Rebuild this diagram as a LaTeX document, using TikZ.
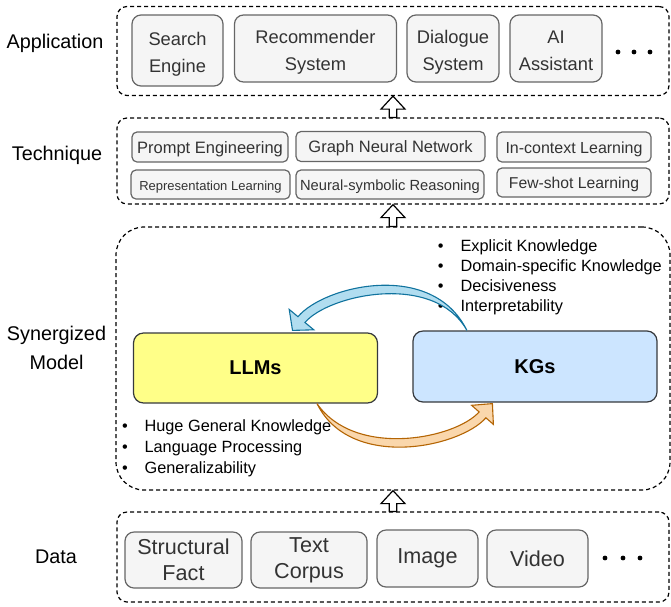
\documentclass[tikz,border=0pt]{standalone}
\usepackage{fontspec}
\setmainfont{Liberation Sans}
\usepackage{tikz}
\usepackage{xcolor}
\usetikzlibrary{calc}

\definecolor{cellfill}{HTML}{F5F5F5}
\definecolor{celldraw}{HTML}{666666}
\definecolor{celltext}{HTML}{333333}
\definecolor{llmfill}{HTML}{FFFF88}
\definecolor{kgfill}{HTML}{CCE5FF}
\definecolor{coredraw}{HTML}{36393D}
\definecolor{bluefill}{HTML}{B1DDF0}
\definecolor{bluedraw}{HTML}{10739E}
\definecolor{orangefill}{HTML}{FAD7AC}
\definecolor{orangedraw}{HTML}{B46504}

% cell text, lowered by #1 inside its box
\newcommand{\cellstack}[2]{\raisebox{-#1}[\height][\depth]{\begin{tabular}{@{}c@{}}#2\end{tabular}}}

% hollow block arrow from the north of #1 up to the south of #2
\newcommand{\layerarrow}[2]{%
  \draw[blockarrow] let \p1=(#1.north), \p2=(#2.south) in
    (\x1-3.7pt,\y1) -- (\x1-3.7pt,\y2-13pt) -- (\x1-12pt,\y2-13pt) -- (\x1,\y2)
    -- (\x1+12pt,\y2-13pt) -- (\x1+3.7pt,\y2-13pt) -- (\x1+3.7pt,\y1) -- cycle;}

\begin{document}
\begin{tikzpicture}[x=1pt, y=-1pt,
    layerbox/.style = {draw, line width=1.2pt, dash pattern=on 4pt off 3pt,
      rounded corners=10pt, inner sep=0pt},
    layername/.style = {align=center, font=\fontsize{19.8}{29}\selectfont},
    cell/.style = {draw=celldraw, fill=cellfill, text=celltext, line width=1.2pt,
      rounded corners=9pt, align=center, inner sep=0pt},
    appcell/.style = {cell, font=\fontsize{18.3}{27}\selectfont},
    techcell/.style = {cell, rounded corners=5pt, minimum height=30pt},
    datacell/.style = {cell, font=\fontsize{21.6}{26}\selectfont},
    corebox/.style = {draw=coredraw, line width=1.2pt, rounded corners=10pt,
      font=\fontsize{20}{24}\selectfont\bfseries,
      minimum width=244pt, minimum height=70pt},
    bulletline/.style = {anchor=west, inner sep=0pt, font=\fontsize{16.3}{20}\selectfont},
    blockarrow/.style = {draw, fill=white, line width=1.2pt, line join=miter},
    bluearrow/.style = {draw=bluedraw, fill=bluefill, line width=1.1pt},
    orangearrow/.style = {draw=orangedraw, fill=orangefill, line width=1.1pt}]
  \useasboundingbox (0,0) rectangle (671,606);

  \node[layerbox, minimum width=552pt, minimum height=89pt] (app) at (393,51) {};
  \node[layerbox, minimum width=552pt, minimum height=86pt] (tech) at (393,161) {};
  \node[layerbox, rounded corners=28pt, minimum width=554pt, minimum height=263pt] (model) at (393,358.5) {};
  \node[layerbox, minimum width=552pt, minimum height=90pt] (data) at (393,557) {};

  \node[layername] (appname) at (55,43) {Application};
  \node[layername] (techname) at (57,155) {Technique};
  \node[layername] (modelname) at (56.5,347.5) {Synergized\\Model};
  \node[layername] (dataname) at (56,557) {Data};

  \node[appcell, minimum width=91pt, minimum height=71pt] (search) at (177.5,50.5) {\cellstack{3.5pt}{Search\\Engine}};
  \node[appcell, minimum width=162pt, minimum height=67pt] (recsys) at (315.5,48.5) {\cellstack{3.5pt}{Recommender\\System}};
  \node[appcell, minimum width=92pt, minimum height=67pt] (dialog) at (453,48.5) {\cellstack{3.5pt}{Dialogue\\System}};
  \node[appcell, minimum width=92pt, minimum height=67pt] (assist) at (556,48.5) {\cellstack{3.5pt}{AI\\Assistant}};
  \foreach \x in {618,634,650}
    \fill (\x,52) circle (2.4pt);

  \node[techcell, minimum width=156pt, font=\fontsize{16.5}{20}\selectfont] (prompt) at (210,147) {\cellstack{2.5pt}{Prompt Engineering}};
  \node[techcell, minimum width=189pt, font=\fontsize{16.5}{20}\selectfont] (gnn) at (390.5,146.5) {\cellstack{2pt}{Graph Neural Network}};
  \node[techcell, minimum width=154pt, font=\fontsize{16}{20}\selectfont] (icl) at (574,147) {\cellstack{2.5pt}{In-context Learning}};
  \node[techcell, minimum width=159pt, minimum height=29pt, font=\fontsize{13}{16}\selectfont] (replearn) at (210.5,184.5) {\cellstack{2.5pt}{Representation Learning}};
  \node[techcell, minimum width=188pt, minimum height=29pt, font=\fontsize{14.7}{18}\selectfont] (neurosym) at (390,184.5) {\cellstack{2.5pt}{Neural-symbolic Reasoning}};
  \node[techcell, minimum width=154pt, minimum height=29pt, font=\fontsize{15.7}{19}\selectfont] (fewshot) at (574,182.5) {\cellstack{2.5pt}{Few-shot Learning}};

  \node[corebox, fill=llmfill] (llm) at (255.5,368) {LLMs};
  \node[corebox, fill=kgfill, minimum height=71pt] (kg) at (535,366.5) {KGs};

  \foreach \txt [count=\i] in {Explicit Knowledge, Domain-specific Knowledge, Decisiveness, Interpretability}
    \node[bulletline] (kgpoint\i) at (437.6,227+20.2*\i) {\textbullet\hspace{17.1pt}\strut\txt};
  \foreach \txt [count=\i] in {Huge General Knowledge, Language Processing, Generalizability}
    \node[bulletline] (llmpoint\i) at (122,406.5+21*\i) {\textbullet\hspace{16.7pt}\strut\txt};

  \coordinate (bluetail) at ($(kg.north west)+(54.5,0)$);
  \coordinate (bluetip) at ($(llm.north)+(37,-2)$);
  \draw[bluearrow] (bluetail) .. controls +(-35,-71) and +(25.6,-30.8) .. ($(bluetip)+(5.5,-13.7)$)
    -- ($(bluetip)+(-3.3,-21)$) -- (bluetip) -- ($(bluetip)+(21.3,-0.6)$) -- ($(bluetip)+(12.5,-7.9)$)
    .. controls +(23,-27.7) and +(-33,-59) .. (bluetail) -- cycle;

  \coordinate (orangetail) at ($(llm.south)+(61.5,0)$);
  \coordinate (orangetip) at ($(kg.south west)+(80,1)$);
  \draw[orangearrow] (orangetail) .. controls +(33,67) and +(-26.4,30) .. ($(orangetip)+(-6.5,14.2)$)
    -- ($(orangetip)+(1,20.8)$) -- (orangetip) -- ($(orangetip)+(-20.8,1.7)$) -- ($(orangetip)+(-13.3,8.3)$)
    .. controls +(-23.8,27) and +(38,55) .. (orangetail) -- cycle;

  \node[datacell, minimum width=117pt, minimum height=56pt] (structfact) at (183.5,560) {Structural\\Fact};
  \node[datacell, minimum width=116pt, minimum height=56pt] (textcorpus) at (309,560) {Text\\Corpus};
  \node[datacell, minimum width=101pt, minimum height=57pt] (image) at (427.5,558.5) {Image};
  \node[datacell, minimum width=101pt, minimum height=57pt] (video) at (537.5,558.5) {Video};
  \foreach \x in {605,623,640}
    \fill (\x,558) circle (2.4pt);

  \layerarrow{tech}{app}
  \layerarrow{model}{tech}
  \layerarrow{data}{model}
\end{tikzpicture}
\end{document}
